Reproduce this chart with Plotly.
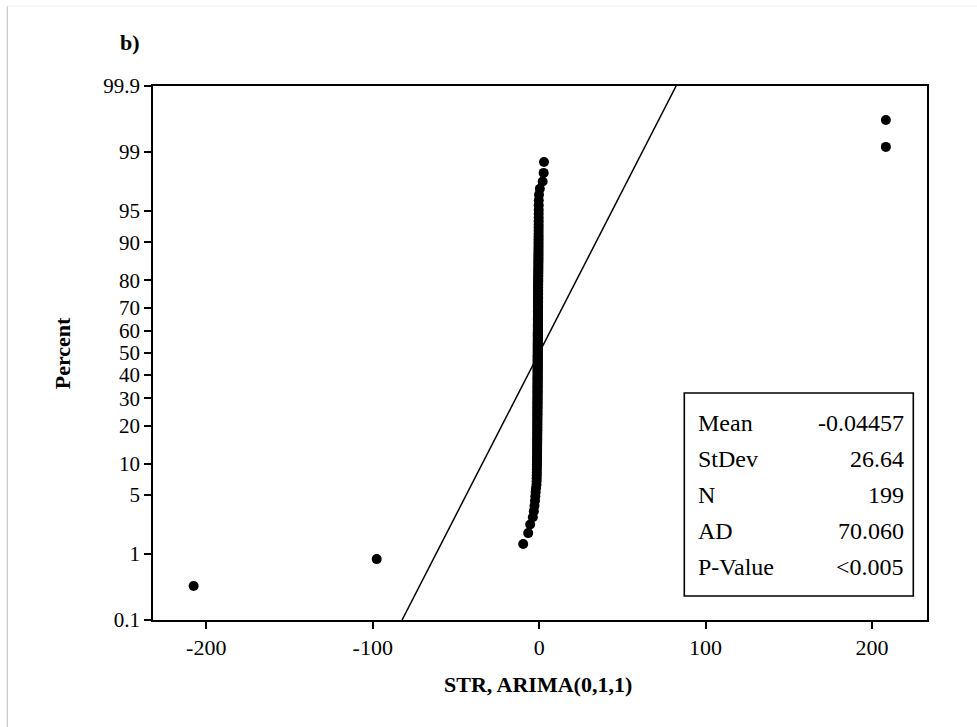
import plotly.graph_objects as go
from statistics import NormalDist

# ---------------- data ----------------
residuals = [
    -207.6, -97.6,
    -9.6, -6.6, -5.4, -3.8, -3.2, -2.8, -2.5, -2.3, -2.1, -1.9,
    -1.62, -1.55, -1.49, -1.44, -1.41, -1.38, -1.35, -1.33, -1.31, -1.29, -1.27, -1.25, -1.24, -1.22, -1.21,
    -1.20, -1.19, -1.18, -1.17, -1.16, -1.15, -1.14, -1.13, -1.12, -1.11, -1.11, -1.10, -1.10, -1.09, -1.09,
    -1.08, -1.08, -1.07, -1.07, -1.06, -1.06, -1.05, -1.05, -1.04, -1.04, -1.03, -1.03, -1.02, -1.02, -1.01,
    -1.01, -1.00, -1.00, -0.99, -0.99, -0.99, -0.98, -0.98, -0.98, -0.97, -0.97, -0.97, -0.96, -0.96, -0.96,
    -0.95, -0.95, -0.95, -0.94, -0.94, -0.94, -0.93, -0.93, -0.93, -0.92, -0.92, -0.92, -0.91, -0.91, -0.91,
    -0.90, -0.90, -0.90, -0.89, -0.89, -0.89, -0.88, -0.88, -0.88, -0.87, -0.87, -0.87, -0.86, -0.86, -0.86,
    -0.85, -0.85, -0.85, -0.84, -0.84, -0.84, -0.83, -0.83, -0.83, -0.82, -0.82, -0.82, -0.81, -0.81, -0.81,
    -0.80, -0.80, -0.79, -0.79, -0.78, -0.78, -0.77, -0.77, -0.76, -0.76, -0.75, -0.75, -0.74, -0.74, -0.73,
    -0.73, -0.72, -0.72, -0.71, -0.71, -0.70, -0.70, -0.69, -0.69, -0.68, -0.68, -0.67, -0.67, -0.66, -0.66,
    -0.65, -0.65, -0.64, -0.64, -0.63, -0.63, -0.62, -0.62, -0.61, -0.60, -0.59, -0.58, -0.57, -0.56, -0.55,
    -0.54, -0.53, -0.52, -0.51, -0.50, -0.49, -0.48, -0.47, -0.46, -0.45, -0.44, -0.43, -0.42, -0.41, -0.40,
    -0.39, -0.38, -0.37, -0.36, -0.35, -0.34, -0.33, -0.32, -0.31, -0.30, -0.29, -0.28, -0.27, -0.26, -0.25,
    -0.10, 0.40, 2.10, 2.70, 2.90,
    208.3, 208.3,
]

mean_val = -0.04457
stdev_val = 26.64

percent_ticks = [0.1, 1, 5, 10, 20, 30, 40, 50, 60, 70, 80, 90, 95, 99, 99.9]
percent_labels = ["0.1", "1", "5", "10", "20", "30", "40", "50", "60", "70", "80", "90", "95", "99", "99.9"]
x_ticks = [-200, -100, 0, 100, 200]
x_labels = ["-200", "-100", "0", "100", "200"]

stat_labels = ["Mean", "StDev", "N", "AD", "P-Value"]
stat_values = ["-0.04457", "26.64", "199", "70.060", "<0.005"]

panel_label = "b)"
x_title = "STR, ARIMA(0,1,1)"
y_title = "Percent"

# ---------------- derived (probability scale) ----------------
nd = NormalDist()
xs = sorted(residuals)
n = len(xs)
# Minitab median-rank plotting positions
z_pts = [nd.inv_cdf((i + 1 - 0.3) / (n + 0.4)) for i in range(n)]
z_ticks = [nd.inv_cdf(p / 100.0) for p in percent_ticks]
z_lo, z_hi = z_ticks[0], z_ticks[-1]
fit_z = [z_lo, z_hi]
fit_x = [mean_val + stdev_val * z for z in fit_z]

FONT = "Liberation Serif"
XTICK_SIZE = 22
YTICK_SIZE = 21
STAT_SIZE = 24
TITLE_SIZE = 22

fig = go.Figure()
fig.add_trace(go.Scatter(
    x=fit_x, y=fit_z, mode="lines",
    line=dict(color="black", width=1.5), showlegend=False, hoverinfo="skip"))
fig.add_trace(go.Scatter(
    x=xs, y=z_pts, mode="markers",
    marker=dict(color="black", size=10, line=dict(width=0)), showlegend=False))

fig.update_xaxes(
    range=[-232, 233], tickvals=x_ticks, ticktext=x_labels,
    showline=True, mirror=True, linecolor="black", linewidth=1.8,
    ticks="outside", ticklen=7, tickwidth=1.8, tickcolor="black",
    showgrid=False, zeroline=False,
    tickfont=dict(family=FONT, size=XTICK_SIZE, color="black"))
fig.update_yaxes(
    range=[z_lo, z_hi], tickvals=z_ticks, ticktext=percent_labels,
    showline=True, mirror=True, linecolor="black", linewidth=1.8,
    ticks="outside", ticklen=7, tickwidth=1.8, tickcolor="black",
    showgrid=False, zeroline=False,
    tickfont=dict(family=FONT, size=YTICK_SIZE, color="black"))

L, R, T, B = 152.7, 926.7, 86.0, 620.0
W, H = 977, 727


def px(xp):
    return (xp - L) / (R - L)


def py(yp):
    return (B - yp) / (B - T)


annotations = []
row_y = [423, 459, 495, 531, 567]
for lab, val, yy in zip(stat_labels, stat_values, row_y):
    annotations.append(dict(x=px(696), y=py(yy), xref="paper", yref="paper", text=lab,
                            showarrow=False, xanchor="left", yanchor="middle",
                            font=dict(family=FONT, size=STAT_SIZE, color="black")))
    annotations.append(dict(x=px(906), y=py(yy), xref="paper", yref="paper", text=val,
                            showarrow=False, xanchor="right", yanchor="middle",
                            font=dict(family=FONT, size=STAT_SIZE, color="black")))

annotations.append(dict(x=px(130), y=py(42), xref="paper", yref="paper", text="<b>" + panel_label + "</b>",
                        showarrow=False, xanchor="center", yanchor="middle",
                        font=dict(family=FONT, size=TITLE_SIZE, color="black")))
annotations.append(dict(x=px(62), y=0.5, xref="paper", yref="paper", text="<b>" + y_title + "</b>",
                        showarrow=False, xanchor="center", yanchor="middle", textangle=-90,
                        font=dict(family=FONT, size=TITLE_SIZE, color="black")))
annotations.append(dict(x=px(538), y=py(684), xref="paper", yref="paper", text="<b>" + x_title + "</b>",
                        showarrow=False, xanchor="center", yanchor="middle",
                        font=dict(family=FONT, size=TITLE_SIZE, color="black")))

shapes = [
    dict(type="rect", xref="paper", yref="paper", x0=px(684), x1=px(913), y0=py(596), y1=py(393),
         line=dict(color="black", width=1.6), fillcolor="white", layer="above"),
    dict(type="line", xref="paper", yref="paper", x0=px(7), x1=px(7), y0=py(6), y1=py(727),
         line=dict(color="#c8c8c8", width=1.2)),
    dict(type="line", xref="paper", yref="paper", x0=px(7), x1=px(977), y0=py(6), y1=py(6),
         line=dict(color="#eeeeee", width=1)),
]

fig.update_layout(
    width=W, height=H,
    margin=dict(l=L, r=W - R, t=T, b=H - B, pad=0),
    paper_bgcolor="white", plot_bgcolor="white",
    annotations=annotations, shapes=shapes,
    showlegend=False,
)

fig.write_html("out.html")
